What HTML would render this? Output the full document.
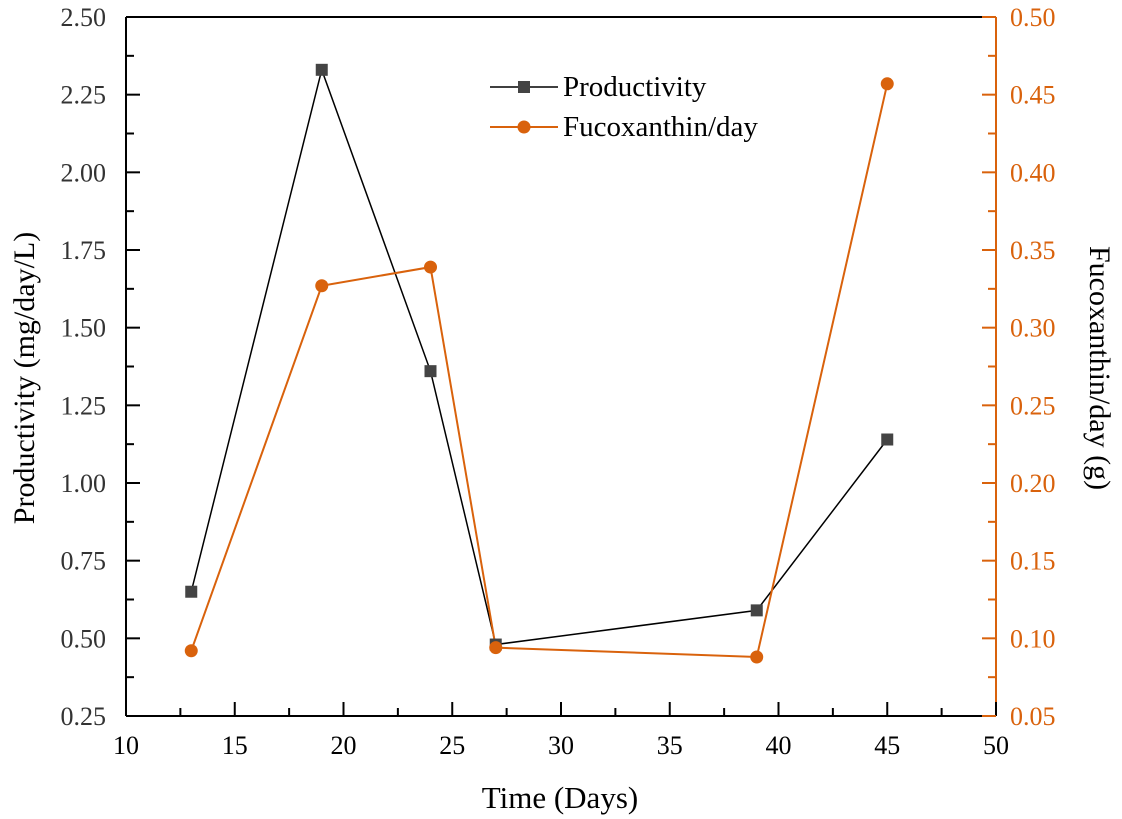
<!DOCTYPE html>
<html><head><meta charset="utf-8"><style>
body{margin:0;background:#fff}
svg{display:block;font-family:"Liberation Serif",serif}
</style></head><body>
<svg id="c" width="1122" height="819"></svg>
<script>
const days=[13,19,24,27,39,45];
const productivity=[0.65,2.33,1.36,0.48,0.59,1.14];
const fucoxanthin=[0.092,0.327,0.339,0.094,0.088,0.457];
const xTicks=[10,15,20,25,30,35,40,45,50];
const yLeftTicks=[0.25,0.5,0.75,1.0,1.25,1.5,1.75,2.0,2.25,2.5];
const yRightTicks=[0.05,0.10,0.15,0.20,0.25,0.30,0.35,0.40,0.45,0.50];
const L=126,R=996,T=17,B=716,OR='#d9620c';
const X=v=>L+(v-10)/40*(R-L);
const YL=v=>B-(v-0.25)/2.25*(B-T);
const YR=v=>B-(v-0.05)/0.45*(B-T);
const svg=document.getElementById('c');
function el(t,a,txt){const e=document.createElementNS('http://www.w3.org/2000/svg',t);for(const k in a)e.setAttribute(k,a[k]);if(txt!==undefined)e.textContent=txt;svg.appendChild(e);return e;}
let e;
e=el('line',{x1:L,y1:T,x2:R,y2:T,stroke:'#000','stroke-width':2});


e=el('line',{x1:L,y1:T,x2:L,y2:B,stroke:'#000','stroke-width':2});


e=el('line',{x1:L,y1:B,x2:R,y2:B,stroke:'#000','stroke-width':2});


e=el('line',{x1:R,y1:T,x2:R,y2:B,stroke:OR,'stroke-width':2});


xTicks.forEach((v,i)=>{
  const x=X(v);
  e=el('line',{x1:x,y1:B,x2:x,y2:B-14,stroke:'#000','stroke-width':2});
  
  
  if(i<xTicks.length-1){e=el('line',{x1:X(v+2.5),y1:B,x2:X(v+2.5),y2:B-8,stroke:'#000','stroke-width':2});
  
  }
  e=el('text',{x:x,y:B+38,'text-anchor':'middle','font-size':26},String(v));
  
  
});
yLeftTicks.forEach((v,i)=>{
  const y=YL(v);
  e=el('line',{x1:L,y1:y,x2:L+14,y2:y,stroke:'#000','stroke-width':2});
  
  
  if(i<yLeftTicks.length-1){e=el('line',{x1:L,y1:YL(v+0.125),x2:L+8,y2:YL(v+0.125),stroke:'#000','stroke-width':2});
  
  }
  e=el('text',{x:L-20,y:y+9,'text-anchor':'end','font-size':26,fill:'#333'},v.toFixed(2));
  
  
});
yRightTicks.forEach((v,i)=>{
  const y=YR(v);
  e=el('line',{x1:R,y1:y,x2:R-14,y2:y,stroke:OR,'stroke-width':2});
  
  
  if(i<yRightTicks.length-1){e=el('line',{x1:R,y1:YR(v+0.025),x2:R-8,y2:YR(v+0.025),stroke:OR,'stroke-width':2});
  
  }
  e=el('text',{x:R+14,y:y+9,'font-size':26,fill:OR},v.toFixed(2));
  
  
});
e=el('text',{x:(L+R)/2-1,y:808,'text-anchor':'middle','font-size':31},'Time (Days)');


e=el('text',{x:0,y:0,'text-anchor':'middle','font-size':30,transform:`translate(34,378) rotate(-90)`},'Productivity (mg/day/L)');


e=el('text',{x:0,y:0,'text-anchor':'middle','font-size':30,transform:`translate(1090,368) rotate(90)`},'Fucoxanthin/day (g)');


e=el('polyline',{points:days.map((d,i)=>X(d)+','+YL(productivity[i])).join(' '),fill:'none',stroke:'#000','stroke-width':1.5});


e=el('polyline',{points:days.map((d,i)=>X(d)+','+YR(fucoxanthin[i])).join(' '),fill:'none',stroke:OR,'stroke-width':2});


days.forEach((d,i)=>{
  e=el('rect',{x:X(d)-6,y:YL(productivity[i])-6,width:12,height:12,fill:'#444'});
  
  
  e=el('circle',{cx:X(d),cy:YR(fucoxanthin[i]),r:6.5,fill:OR});
  
  
});
e=el('line',{x1:490,y1:87,x2:558,y2:87,stroke:'#000','stroke-width':1.5});


e=el('rect',{x:518,y:81,width:12,height:12,fill:'#444'});


e=el('text',{x:563,y:96,'font-size':29},'Productivity');


e=el('line',{x1:490,y1:127,x2:558,y2:127,stroke:OR,'stroke-width':2});


e=el('circle',{cx:524,cy:127,r:6.5,fill:OR});


e=el('text',{x:563,y:136,'font-size':29},'Fucoxanthin/day');


</script>
</body></html>
